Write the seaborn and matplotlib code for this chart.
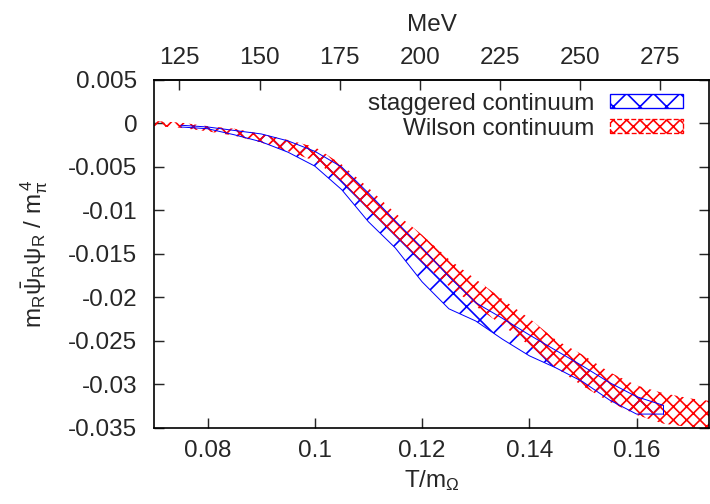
import numpy as np
import matplotlib
matplotlib.use("Agg")
import matplotlib.pyplot as plt
import seaborn as sns
from matplotlib.patches import Patch
from matplotlib.ticker import FormatStrFormatter

# T/m_Omega -> MeV conversion (m_Omega)
M_OMEGA = 1672.45

# staggered continuum band
stag_x = [0.075, 0.080, 0.085, 0.090, 0.095, 0.100, 0.105, 0.110, 0.115, 0.120,
          0.125, 0.130, 0.135, 0.140, 0.145, 0.150, 0.155, 0.160, 0.165]
stag_hi = [-0.0002, -0.0004, -0.0008, -0.0012, -0.0020, -0.0032, -0.0050, -0.0080, -0.0112, -0.0143,
           -0.0176, -0.0206, -0.0224, -0.0243, -0.0261, -0.0279, -0.0298, -0.0314, -0.0324]
stag_lo = [-0.0004, -0.0006, -0.0013, -0.0021, -0.0033, -0.0049, -0.0076, -0.0113, -0.0143, -0.0182,
           -0.0213, -0.0227, -0.0248, -0.0267, -0.0281, -0.0297, -0.0318, -0.0334, -0.0334]

# Wilson continuum band
wil_x = [0.070, 0.075, 0.080, 0.085, 0.090, 0.095, 0.100, 0.105, 0.110, 0.115, 0.120,
         0.125, 0.130, 0.135, 0.140, 0.145, 0.150, 0.155, 0.160, 0.165, 0.170, 0.175]
wil_hi = [0.0003, 0.0001, -0.0003, -0.0006, -0.0012, -0.0019, -0.0027, -0.0047, -0.0074, -0.0103, -0.0128,
          -0.0156, -0.0179, -0.0202, -0.0224, -0.0249, -0.0266, -0.0286, -0.0301, -0.0310, -0.0316, -0.0320]
wil_lo = [-0.0003, -0.0005, -0.0009, -0.0014, -0.0022, -0.0032, -0.0043, -0.0066, -0.0099, -0.0129, -0.0159,
          -0.0187, -0.0210, -0.0232, -0.0255, -0.0281, -0.0302, -0.0320, -0.0335, -0.0345, -0.0349, -0.0352]

x_ticks = [0.08, 0.10, 0.12, 0.14, 0.16]
y_ticks = [-0.035, -0.03, -0.025, -0.02, -0.015, -0.01, -0.005, 0.0, 0.005]
mev_ticks = [125, 150, 175, 200, 225, 250, 275]
labels = ["staggered continuum", "Wilson continuum"]

sns.set_style("ticks")
plt.rcParams["font.family"] = ["Liberation Sans", "DejaVu Sans"]
plt.rcParams["mathtext.fontset"] = "custom"
plt.rcParams["mathtext.rm"] = "Liberation Sans"
plt.rcParams["mathtext.it"] = "Liberation Sans:italic"
plt.rcParams["mathtext.default"] = "regular"
plt.rcParams["axes.unicode_minus"] = False
plt.rcParams["hatch.linewidth"] = 1.5

FS = 21.8
W, H, DPI = 710, 504, 80
fig = plt.figure(figsize=(W / DPI, H / DPI), dpi=DPI)
ax = fig.add_axes([154 / W, 1 - 428 / H, (709 - 154) / W, 348 / H])

# staggered band
plt.rcParams["hatch.color"] = "blue"
ax.fill_between(stag_x, stag_lo, stag_hi, facecolor="none", edgecolor="blue",
                hatch="x", linewidth=0)
sns.lineplot(x=stag_x, y=stag_hi, color="blue", lw=0.9, ax=ax, sort=False)
sns.lineplot(x=stag_x, y=stag_lo, color="blue", lw=0.9, ax=ax, sort=False)
ax.plot([stag_x[-1], stag_x[-1]], [stag_lo[-1], stag_hi[-1]], color="blue", lw=0.9)

# Wilson band
plt.rcParams["hatch.color"] = "red"
ax.fill_between(wil_x, wil_lo, wil_hi, facecolor="none", edgecolor="red",
                hatch="xx", linewidth=0)

ax.set_xlim(0.07, 0.07 + (709 - 154) / 5362)
ax.set_ylim(-0.035, 0.005)
ax.set_xticks(x_ticks)
ax.set_yticks(y_ticks)
ax.xaxis.set_major_formatter(FormatStrFormatter("%g"))
ax.yaxis.set_major_formatter(FormatStrFormatter("%g"))
for s in ax.spines.values():
    s.set_visible(True)
    s.set_linewidth(1.5)
    s.set_color("black")
ax.tick_params(axis="x", direction="in", length=9, width=1.3, labelsize=FS,
               pad=11, top=False, bottom=True)
ax.tick_params(axis="y", direction="in", length=9, width=1.3, labelsize=FS,
               pad=15, left=True, right=True)
ax.set_xlabel(r"T/m$_{\Omega}$", fontsize=FS, labelpad=5)
ax.set_ylabel(r"m$_R\bar{\psi}_R\psi_R$ / m$_{\pi}^{\,4}$", fontsize=FS, labelpad=16)

sec = ax.secondary_xaxis("top", functions=(lambda t: t * M_OMEGA, lambda m: m / M_OMEGA))
sec.set_xticks(mev_ticks)
sec.tick_params(direction="in", length=9, width=1.3, labelsize=FS, pad=10)
sec.spines["top"].set_linewidth(1.5)
sec.set_xlabel("MeV", fontsize=FS, labelpad=14)

handles = [
    Patch(facecolor="none", edgecolor="blue", hatch="x", linewidth=1.2),
    Patch(facecolor="none", edgecolor="red", hatch="xx", linewidth=1.2, linestyle="--"),
]
ax.legend(handles, labels, loc="upper right", bbox_to_anchor=(683 / W, 1 - 93 / H),
          bbox_transform=fig.transFigure, frameon=False, markerfirst=False,
          fontsize=FS, handlelength=3.0, handleheight=0.5, handletextpad=0.65,
          labelspacing=0.12, borderpad=0, borderaxespad=0)

fig.savefig("out.png", dpi=DPI)
